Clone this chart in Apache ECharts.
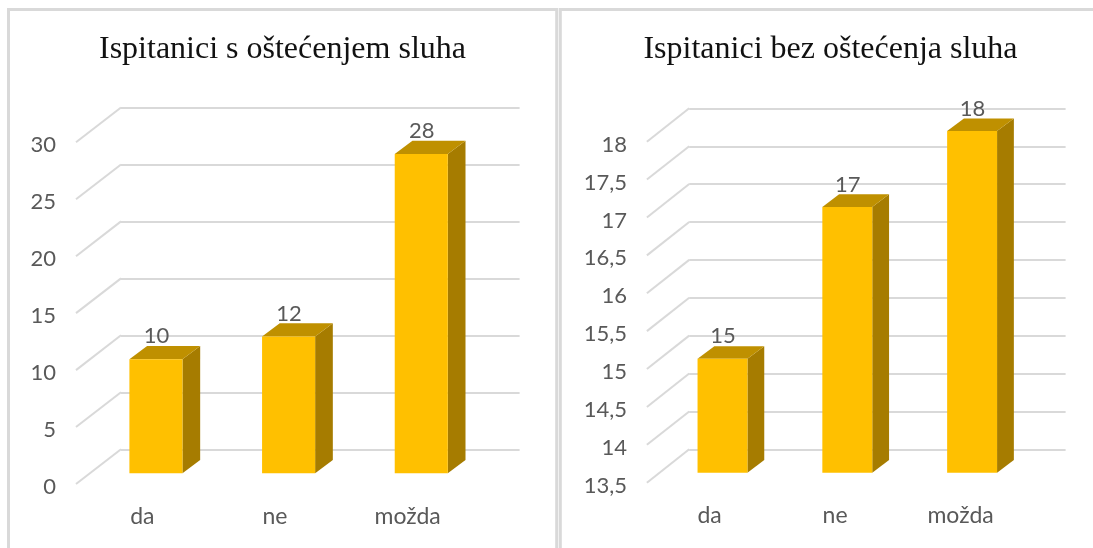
<!DOCTYPE html>
<html><head><meta charset="utf-8">
<style>html,body{margin:0;padding:0;background:#fff}#c{width:1093px;height:548px}</style>
<script src="https://cdn.jsdelivr.net/npm/echarts@6/dist/echarts.min.js"></script>
</head><body><div id="c"></div>
<script>
const categories = ['da', 'ne', 'možda'];
const leftTitle = 'Ispitanici s oštećenjem sluha';
const rightTitle = 'Ispitanici bez oštećenja sluha';
const leftValues = [10, 12, 28];
const rightValues = [15, 17, 18];
const leftTicks = [0, 5, 10, 15, 20, 25, 30];
const rightTicks = [13.5, 14, 14.5, 15, 15.5, 16, 16.5, 17, 17.5, 18];

const GRID = '#d9d9d9', TXT = '#595959';
const FRONT = '#ffc000', TOP = '#bf9000', SIDE = '#a67c00';
const FONT = 'Lato, Carlito, sans-serif';
const TICK_LABEL_SHIFT = 3;

const panels = [
  {title: leftTitle, titleX: 282.5, values: leftValues, ticks: leftTicks, min: 0, max: 30, step: 5,
   back: {x: 121, w: 398.6, top: 107.5, bottom: 449.7},
   front: {x: 76, w: 398, top: 142.3, bottom: 484},
   plane: {x: 89.6, w: 398, top: 131.3, bottom: 473.3},
   depth: [17.7, -13.3], labelGap: 23, fmt: v => String(v)},
  {title: rightTitle, titleX: 830.5, values: rightValues, ticks: rightTicks, min: 13.5, max: 18, step: 0.5,
   back: {x: 689.2, w: 376.4, top: 108.3, bottom: 450},
   front: {x: 646.9, w: 376.4, top: 141.7, bottom: 482.7},
   plane: {x: 660.1, w: 374.4, top: 131, bottom: 472.7},
   depth: [16.8, -12.6], labelGap: 22.5, fmt: v => String(v).replace('.', ',')}
];

const grid = [], xAxis = [], yAxis = [], series = [], title = [];
panels.forEach(p => {
  const base = grid.length;
  const g = r => ({left: r.x, width: r.w, top: r.top, height: r.bottom - r.top});
  const tickRow = {x: p.front.x, w: p.front.w, top: p.front.top + TICK_LABEL_SHIFT, bottom: p.front.bottom + TICK_LABEL_SHIFT};
  grid.push(g(p.back), g(p.front), g(p.plane), g(tickRow));
  [0, 1, 2, 3].forEach(i => {
    xAxis.push({type: 'category', gridIndex: base + i, data: categories,
      axisLine: {show: false}, axisTick: {show: false},
      axisLabel: {show: i === 1, color: TXT, fontFamily: FONT, fontSize: 23, margin: 21}});
    yAxis.push({type: 'value', gridIndex: base + i, min: p.min, max: p.max, interval: p.step,
      axisLine: {show: false}, axisTick: {show: false},
      splitLine: {show: i === 0, lineStyle: {color: GRID, width: 2}},
      axisLabel: {show: i === 3, color: TXT, fontFamily: FONT, fontSize: 22, margin: 20, formatter: p.fmt}});
  });
  const dx = p.back.x - p.front.x, dy = p.back.top - p.front.top;
  series.push({type: 'custom', xAxisIndex: base + 1, yAxisIndex: base + 1, silent: true, z: 1,
    data: p.ticks.map(t => [t]),
    encode: {y: 0},
    renderItem(params, api) {
      const a = api.coord([0, api.value(0)]);
      const x0 = params.coordSys.x;
      return {type: 'line', shape: {x1: x0, y1: a[1], x2: x0 + dx, y2: a[1] + dy},
        style: {stroke: GRID, lineWidth: 2}};
    }});
  const [ddx, ddy] = p.depth;
  series.push({type: 'custom', xAxisIndex: base + 2, yAxisIndex: base + 2, silent: true, z: 3,
    data: p.values.map((v, i) => [i, v]),
    encode: {x: 0, y: 1},
    renderItem(params, api) {
      const v = api.value(1);
      const c = api.coord([api.value(0), v]);
      const b = api.coord([api.value(0), p.min]);
      const w = api.size([1, 0])[0] * 0.4;
      const l = c[0] - w / 2, r = c[0] + w / 2, t = c[1], y0 = b[1];
      return {type: 'group', children: [
        {type: 'polygon', shape: {points: [[r, t], [r + ddx, t + ddy], [r + ddx, y0 + ddy], [r, y0]]}, style: {fill: SIDE}},
        {type: 'polygon', shape: {points: [[l, t], [l + ddx, t + ddy], [r + ddx, t + ddy], [r, t]]}, style: {fill: TOP}},
        {type: 'rect', shape: {x: l, y: t, width: w, height: y0 - t}, style: {fill: FRONT}},
        {type: 'text', x: c[0] + 0.5, y: t - p.labelGap, style: {text: String(v), fill: TXT, font: '22px ' + FONT, align: 'center', verticalAlign: 'middle'}}
      ]};
    }});
  title.push({text: p.title, left: p.titleX - 5, top: 29, textAlign: 'center',
    textStyle: {fontFamily: '"Liberation Serif", serif', fontWeight: 'normal', fontSize: 32, color: '#111'}});
});

const chart = echarts.init(document.getElementById('c'), null, {renderer: 'canvas'});
chart.setOption({animation: false, backgroundColor: '#fff', title, grid, xAxis, yAxis, series,
  graphic: [
    {type: 'polyline', silent: true, shape: {points: [[8.5, 548], [8.5, 9.5], [556.7, 9.5], [556.7, 548]]}, style: {stroke: GRID, lineWidth: 3, fill: null}},
    {type: 'polyline', silent: true, shape: {points: [[560.3, 548], [560.3, 9.5], [1093, 9.5]]}, style: {stroke: GRID, lineWidth: 3, fill: null}}
  ]});
</script></body></html>
